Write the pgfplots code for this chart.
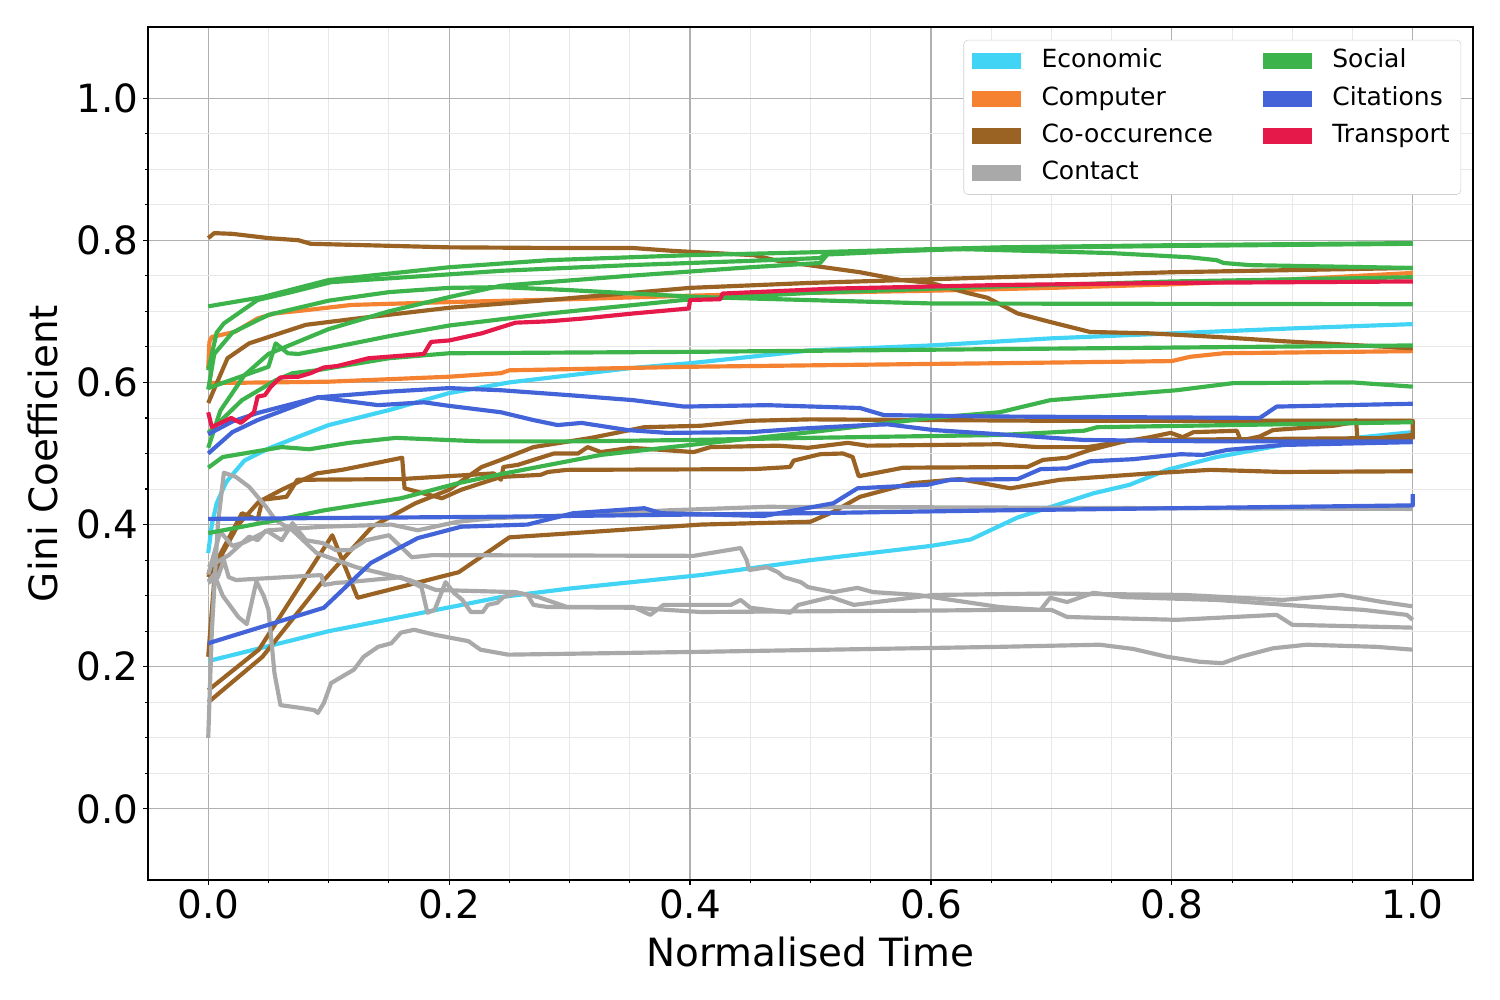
\documentclass[border=0pt]{standalone}
\usepackage{pgfplots}
\pgfplotsset{compat=1.18}
\usepackage{fontspec}
\setmainfont{DejaVu Sans}
\definecolor{cEcon}{HTML}{42D4F4}
\definecolor{cComp}{HTML}{F58231}
\definecolor{cCooc}{HTML}{9A6324}
\definecolor{cCont}{HTML}{A9A9A9}
\definecolor{cSoc}{HTML}{3CB44B}
\definecolor{cCit}{HTML}{4363D8}
\definecolor{cTrans}{HTML}{E6194B}
\definecolor{gridmaj}{HTML}{B0B0B0}
\definecolor{gridmin}{HTML}{E8E8E8}
\definecolor{legframe}{HTML}{D0D0D0}
\begin{document}
\begin{tikzpicture}
\useasboundingbox (-106.56pt,-86.4pt) rectangle (973.44pt,633.6pt);
\begin{axis}[
  at={(0,0)}, anchor=south west, scale only axis,
  width=954pt, height=614.16pt,
  xmin=-0.05, xmax=1.05, ymin=-0.1, ymax=1.1,
  xtick={0,0.2,0.4,0.6,0.8,1}, ytick={0,0.2,0.4,0.6,0.8,1},
  minor x tick num=3, minor y tick num=3,
  grid=both,
  major grid style={color=gridmaj, line width=0.8pt},
  minor grid style={color=gridmin, line width=0.6pt},
  axis line style={line width=0.8pt},
  tick align=outside, tick pos=left,
  major tick length=3.5pt, minor tick length=2pt,
  every tick/.style={black, line width=0.8pt},
  tick label style={font=\fontsize{28}{33}\selectfont},
  /pgf/number format/.cd, fixed, fixed zerofill, precision=1, assume math mode=true,
  /pgfplots/.cd,
  xlabel={Normalised Time}, ylabel={Gini Coefficient},
  label style={font=\fontsize{28}{33}\selectfont},
  xlabel style={yshift=-6pt},
  ylabel style={yshift=6pt},
  every axis plot/.append style={line width=3pt, line join=round},
  legend columns=2,
  legend cell align=left,
  legend image code/.code={\fill[#1, sharp corners] (0pt,-5.8pt) rectangle (35pt,5.8pt);},
  legend style={at={(0.991,0.985)}, anchor=north east, draw=legframe, rounded corners=3pt,
    font=\fontsize{18}{21.6}\selectfont, inner xsep=6pt, inner ysep=5pt,
    nodes={inner sep=2pt, text height=13pt, text depth=3.5pt},
    row sep=6.4pt,
    /tikz/every even column/.append style={column sep=34pt},
    /tikz/every odd column/.append style={column sep=13pt}},
]
\addlegendimage{fill=cEcon, draw=none}\addlegendentry{Economic}
\addlegendimage{fill=cSoc, draw=none}\addlegendentry{Social}
\addlegendimage{fill=cComp, draw=none}\addlegendentry{Computer}
\addlegendimage{fill=cCit, draw=none}\addlegendentry{Citations}
\addlegendimage{fill=cCooc, draw=none}\addlegendentry{Co-occurence}
\addlegendimage{fill=cTrans, draw=none}\addlegendentry{Transport}
\addlegendimage{fill=cCont, draw=none}\addlegendentry{Contact}

% Economic
\addplot[cEcon, forget plot] coordinates {(0,0.36)(0.003,0.40)(0.007,0.43)(0.015,0.46)(0.03,0.49)(0.05,0.507)(0.077,0.525)(0.1,0.54)(0.15,0.561)(0.2,0.585)(0.25,0.60)(0.3,0.61)(0.35,0.62)(0.4,0.627)(0.5,0.645)(0.6,0.652)(0.7,0.662)(0.8,0.669)(0.9,0.676)(1,0.682)};
\addplot[cEcon, forget plot] coordinates {(0,0.208)(0.1,0.25)(0.16,0.27)(0.243,0.298)(0.3,0.31)(0.409,0.329)(0.5,0.35)(0.55,0.36)(0.6,0.37)(0.633,0.379)(0.672,0.41)(0.735,0.444)(0.765,0.456)(0.796,0.477)(0.837,0.495)(0.892,0.512)(1,0.53)};

% Computer
\addplot[cComp, forget plot] coordinates {(0,0.62)(0.001,0.657)(0.003,0.664)(0.022,0.671)(0.041,0.69)(0.055,0.697)(0.083,0.702)(0.119,0.709)(0.2,0.713)(0.3,0.717)(0.4,0.722)(0.5,0.726)(0.6,0.729)(0.7,0.733)(0.8,0.738)(0.9,0.745)(1,0.754)};
\addplot[cComp, forget plot] coordinates {(0,0.599)(0.1,0.601)(0.2,0.608)(0.243,0.613)(0.25,0.617)(0.4,0.622)(0.6,0.626)(0.657,0.627)(0.8,0.63)(0.815,0.636)(0.843,0.641)(1,0.644)};

% Co-occurence
\addplot[cCooc, forget plot] coordinates {(0,0.803)(0.005,0.81)(0.02,0.809)(0.05,0.803)(0.075,0.80)(0.085,0.795)(0.2,0.79)(0.3,0.789)(0.353,0.789)(0.386,0.785)(0.453,0.779)(0.473,0.771)(0.541,0.755)(0.575,0.744)(0.6,0.74)(0.63,0.726)(0.647,0.719)(0.672,0.697)(0.699,0.685)(0.732,0.671)(0.782,0.669)(0.837,0.664)(0.892,0.658)(1,0.648)};
\addplot[cCooc, forget plot] coordinates {(0,0.571)(0.016,0.634)(0.034,0.655)(0.081,0.681)(0.124,0.69)(0.2,0.705)(0.283,0.716)(0.4,0.733)(0.5,0.74)(0.657,0.748)(0.8,0.755)(1,0.761)};
\addplot[cCooc, forget plot] coordinates {(0,0.15)(0.045,0.214)(0.094,0.318)(0.136,0.397)(0.172,0.43)(0.2,0.449)(0.227,0.481)(0.243,0.491)(0.27,0.509)(0.318,0.522)(0.362,0.537)(0.409,0.539)(0.45,0.546)(0.5,0.548)(0.7,0.546)(1,0.546)(1,0.52)};
\addplot[cCooc, forget plot] coordinates {(0,0.167)(0.042,0.224)(0.103,0.385)(0.124,0.297)(0.208,0.333)(0.25,0.382)(0.409,0.40)(0.5,0.404)(0.519,0.418)(0.541,0.439)(0.583,0.458)(0.624,0.464)(0.666,0.451)(0.707,0.463)(0.782,0.472)(0.832,0.477)(0.892,0.474)(1,0.475)};
\addplot[cCooc, forget plot] coordinates {(0,0.326)(0.028,0.416)(0.041,0.407)(0.045,0.435)(0.065,0.439)(0.074,0.463)(0.16,0.464)(0.237,0.472)(0.243,0.463)(0.245,0.481)(0.257,0.484)(0.287,0.50)(0.307,0.50)(0.315,0.509)(0.326,0.502)(0.351,0.508)(0.403,0.502)(0.417,0.509)(0.473,0.511)(0.498,0.508)(0.531,0.515)(0.547,0.511)(0.657,0.513)(0.688,0.509)(0.73,0.509)(0.768,0.519)(0.782,0.523)(0.799,0.529)(0.809,0.523)(0.818,0.53)(0.854,0.532)(0.857,0.519)(0.865,0.521)(0.873,0.524)(0.884,0.533)(0.934,0.539)(0.948,0.543)(0.953,0.547)(0.954,0.519)(1,0.526)};
\addplot[cCooc, forget plot] coordinates {(0,0.214)(0.005,0.322)(0.012,0.36)(0.025,0.40)(0.042,0.432)(0.061,0.449)(0.09,0.472)(0.111,0.477)(0.123,0.481)(0.161,0.494)(0.163,0.451)(0.194,0.437)(0.206,0.446)(0.21,0.449)(0.23,0.46)(0.243,0.467)(0.276,0.47)(0.282,0.474)(0.298,0.477)(0.453,0.478)(0.483,0.481)(0.486,0.49)(0.508,0.499)(0.527,0.50)(0.535,0.495)(0.54,0.468)(0.577,0.48)(0.68,0.481)(0.693,0.491)(0.713,0.494)(0.732,0.505)(0.765,0.519)(1,0.522)};

% Contact
\addplot[cCont, forget plot] coordinates {(0,0.33)(0.01,0.39)(0.02,0.37)(0.03,0.375)(0.05,0.392)(0.096,0.397)(0.152,0.40)(0.174,0.392)(0.207,0.404)(0.237,0.409)(0.3,0.413)(0.381,0.42)(0.464,0.425)(0.65,0.424)(0.8,0.423)(1,0.422)};
\addplot[cCont, forget plot] coordinates {(0,0.10)(0.003,0.25)(0.008,0.40)(0.013,0.473)(0.023,0.467)(0.034,0.453)(0.048,0.425)(0.056,0.406)(0.07,0.392)(0.09,0.36)(0.123,0.34)(0.167,0.322)(0.189,0.308)(0.255,0.305)(0.274,0.298)(0.298,0.284)(0.353,0.284)(0.367,0.273)(0.378,0.287)(0.434,0.287)(0.442,0.294)(0.45,0.283)(0.483,0.276)(0.49,0.287)(0.517,0.298)(0.536,0.287)(0.602,0.301)(0.7,0.303)(0.81,0.301)(0.892,0.294)(0.941,0.301)(0.975,0.291)(1,0.285)};
\addplot[cCont, forget plot] coordinates {(0,0.34)(0.017,0.357)(0.034,0.383)(0.041,0.378)(0.048,0.392)(0.061,0.378)(0.07,0.402)(0.081,0.378)(0.095,0.374)(0.106,0.364)(0.118,0.364)(0.131,0.378)(0.15,0.385)(0.169,0.354)(0.186,0.357)(0.403,0.356)(0.442,0.367)(0.447,0.35)(0.449,0.336)(0.464,0.34)(0.473,0.333)(0.478,0.326)(0.492,0.319)(0.498,0.312)(0.519,0.305)(0.539,0.311)(0.552,0.305)(0.589,0.301)(0.657,0.284)(0.691,0.28)(0.699,0.297)(0.713,0.291)(0.735,0.304)(0.76,0.298)(0.837,0.294)(0.92,0.284)(0.959,0.28)(0.995,0.273)(1,0.266)};
\addplot[cCont, forget plot] coordinates {(0,0.32)(0.005,0.33)(0.012,0.30)(0.025,0.27)(0.032,0.26)(0.04,0.32)(0.046,0.30)(0.05,0.28)(0.055,0.191)(0.06,0.146)(0.077,0.142)(0.088,0.139)(0.091,0.135)(0.096,0.149)(0.102,0.177)(0.121,0.196)(0.129,0.214)(0.141,0.228)(0.152,0.233)(0.16,0.248)(0.171,0.252)(0.188,0.245)(0.216,0.236)(0.226,0.224)(0.249,0.217)(0.409,0.221)(0.657,0.228)(0.74,0.231)(0.768,0.225)(0.796,0.214)(0.823,0.207)(0.842,0.205)(0.857,0.214)(0.884,0.226)(0.912,0.231)(0.97,0.228)(1,0.224)};
\addplot[cCont, forget plot] coordinates {(0,0.318)(0.008,0.326)(0.013,0.35)(0.017,0.326)(0.023,0.322)(0.094,0.329)(0.096,0.315)(0.106,0.318)(0.116,0.319)(0.16,0.326)(0.177,0.312)(0.182,0.276)(0.188,0.28)(0.197,0.319)(0.204,0.304)(0.211,0.294)(0.218,0.277)(0.228,0.277)(0.232,0.287)(0.24,0.29)(0.245,0.298)(0.257,0.304)(0.265,0.301)(0.27,0.287)(0.282,0.284)(0.353,0.283)(0.409,0.277)(0.5,0.278)(0.6,0.279)(0.657,0.28)(0.7,0.28)(0.713,0.27)(0.804,0.266)(0.887,0.273)(0.9,0.259)(0.975,0.256)(1,0.255)};

% Social
\addplot[cSoc, forget plot] coordinates {(0,0.707)(0.045,0.72)(0.1,0.744)(0.2,0.762)(0.283,0.772)(0.4,0.779)(0.5,0.783)(0.657,0.79)(0.8,0.793)(1,0.796)};
\addplot[cSoc, forget plot] coordinates {(0,0.617)(0.007,0.67)(0.013,0.683)(0.041,0.716)(0.069,0.727)(0.102,0.741)(0.2,0.752)(0.243,0.757)(0.35,0.765)(0.45,0.771)(0.508,0.775)(0.514,0.782)(0.657,0.789)(0.8,0.792)(1,0.795)};
\addplot[cSoc, forget plot] coordinates {(0,0.508)(0.01,0.56)(0.03,0.61)(0.05,0.64)(0.1,0.675)(0.15,0.70)(0.2,0.72)(0.243,0.736)(0.35,0.75)(0.45,0.762)(0.508,0.768)(0.514,0.78)(0.616,0.788)(0.749,0.782)(0.782,0.779)(0.815,0.776)(0.837,0.772)(0.843,0.768)(0.865,0.765)(1,0.761)};
\addplot[cSoc, forget plot] coordinates {(0,0.59)(0.005,0.64)(0.02,0.67)(0.05,0.695)(0.1,0.715)(0.15,0.727)(0.2,0.733)(0.243,0.734)(0.298,0.73)(0.409,0.72)(0.602,0.711)(1,0.71)};
\addplot[cSoc, forget plot] coordinates {(0,0.592)(0.05,0.622)(0.056,0.655)(0.066,0.641)(0.075,0.64)(0.1,0.648)(0.15,0.665)(0.2,0.68)(0.283,0.697)(0.395,0.716)(0.5,0.726)(0.657,0.735)(0.8,0.742)(1,0.748)};
\addplot[cSoc, forget plot] coordinates {(0,0.388)(0.05,0.404)(0.096,0.42)(0.16,0.437)(0.207,0.458)(0.243,0.471)(0.326,0.498)(0.4,0.512)(0.5,0.53)(0.6,0.55)(0.657,0.558)(0.699,0.575)(0.804,0.589)(0.851,0.599)(0.95,0.60)(1,0.594)};
\addplot[cSoc, forget plot] coordinates {(0,0.48)(0.012,0.495)(0.061,0.509)(0.084,0.506)(0.117,0.515)(0.156,0.522)(0.227,0.517)(0.3,0.517)(0.4,0.519)(0.5,0.522)(0.657,0.526)(0.727,0.532)(0.738,0.537)(0.85,0.54)(1,0.544)};
\addplot[cSoc, forget plot] coordinates {(0,0.529)(0.028,0.575)(0.056,0.603)(0.07,0.613)(0.09,0.617)(0.15,0.634)(0.2,0.641)(0.3,0.642)(0.4,0.643)(0.6,0.646)(0.8,0.649)(1,0.652)};

% Citations
\addplot[cCit, forget plot] coordinates {(0,0.527)(0.02,0.545)(0.041,0.557)(0.091,0.579)(0.15,0.587)(0.2,0.592)(0.243,0.589)(0.3,0.582)(0.353,0.575)(0.395,0.566)(0.464,0.568)(0.541,0.564)(0.561,0.554)(0.657,0.552)(0.873,0.55)(0.887,0.566)(1,0.57)};
\addplot[cCit, forget plot] coordinates {(0,0.50)(0.02,0.53)(0.041,0.547)(0.091,0.579)(0.141,0.568)(0.179,0.572)(0.2,0.567)(0.243,0.558)(0.27,0.547)(0.29,0.54)(0.31,0.543)(0.348,0.533)(0.381,0.529)(0.45,0.53)(0.492,0.535)(0.547,0.54)(0.564,0.541)(0.602,0.533)(0.657,0.527)(0.727,0.519)(0.837,0.517)(1,0.517)};
\addplot[cCit, forget plot] coordinates {(0,0.408)(0.24,0.411)(0.5,0.416)(0.657,0.42)(0.8,0.423)(1,0.427)(1,0.443)};
\addplot[cCit, forget plot] coordinates {(0,0.233)(0.096,0.283)(0.135,0.346)(0.174,0.381)(0.21,0.397)(0.265,0.40)(0.303,0.416)(0.362,0.423)(0.376,0.416)(0.461,0.412)(0.519,0.43)(0.539,0.451)(0.597,0.456)(0.616,0.463)(0.672,0.464)(0.691,0.478)(0.713,0.479)(0.732,0.489)(0.768,0.492)(0.807,0.499)(0.826,0.498)(0.846,0.505)(0.892,0.512)(1,0.516)};

% Transport
\addplot[cTrans, forget plot] coordinates {(0,0.558)(0.003,0.537)(0.019,0.55)(0.027,0.543)(0.038,0.558)(0.041,0.58)(0.047,0.582)(0.052,0.594)(0.06,0.607)(0.075,0.608)(0.085,0.613)(0.096,0.621)(0.107,0.623)(0.133,0.634)(0.179,0.64)(0.185,0.657)(0.2,0.659)(0.227,0.669)(0.255,0.684)(0.283,0.686)(0.312,0.69)(0.353,0.697)(0.399,0.704)(0.4,0.716)(0.425,0.717)(0.427,0.725)(0.52,0.732)(0.657,0.737)(0.8,0.74)(1,0.742)};
\end{axis}
\end{tikzpicture}
\end{document}
